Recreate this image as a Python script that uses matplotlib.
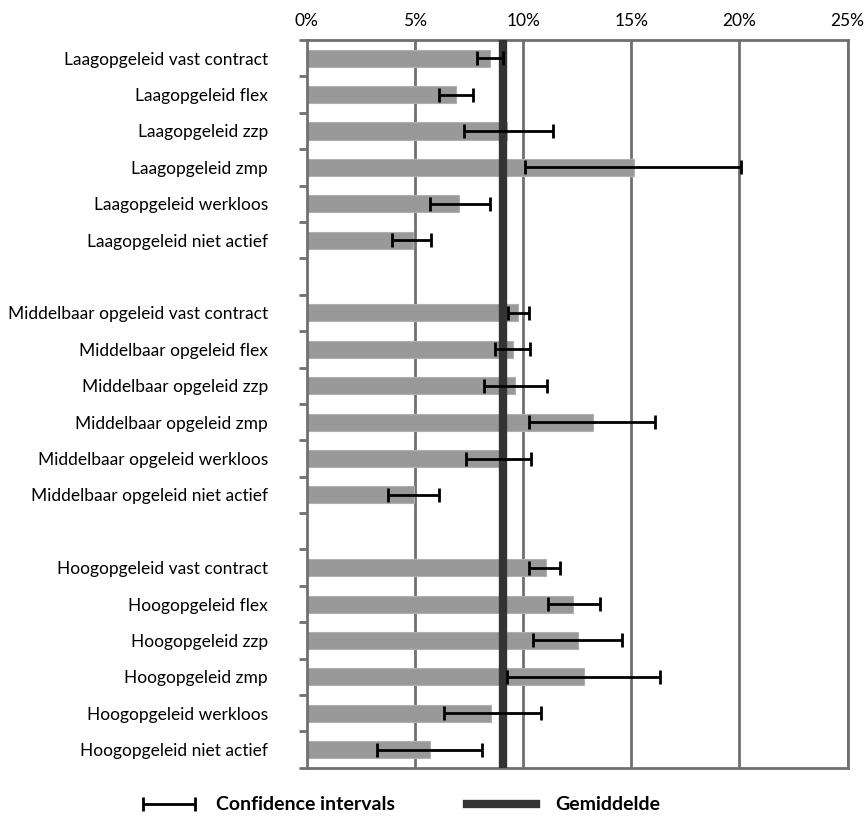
import numpy as np
import matplotlib
matplotlib.use("Agg")
import matplotlib.pyplot as plt
from matplotlib.ticker import FixedLocator, FuncFormatter
from matplotlib.container import ErrorbarContainer
from matplotlib.legend_handler import HandlerErrorbar

plt.rcParams['font.family'] = ['Lato', 'DejaVu Sans']

labels = [
    'Laagopgeleid vast contract', 'Laagopgeleid flex', 'Laagopgeleid zzp',
    'Laagopgeleid zmp', 'Laagopgeleid werkloos', 'Laagopgeleid niet actief',
    'Middelbaar opgeleid vast contract', 'Middelbaar opgeleid flex',
    'Middelbaar opgeleid zzp', 'Middelbaar opgeleid zmp',
    'Middelbaar opgeleid werkloos', 'Middelbaar opgeleid niet actief',
    'Hoogopgeleid vast contract', 'Hoogopgeleid flex', 'Hoogopgeleid zzp',
    'Hoogopgeleid zmp', 'Hoogopgeleid werkloos', 'Hoogopgeleid niet actief',
]
# percentages
values = [8.47, 6.88, 9.28, 15.15, 7.05, 4.89,
          9.78, 9.55, 9.62, 13.24, 8.89, 4.96,
          11.06, 12.32, 12.56, 12.83, 8.54, 5.69]
ci_low = [7.89, 6.11, 7.27, 10.10, 5.71, 3.93,
          9.30, 8.70, 8.20, 10.29, 7.36, 3.77,
          10.29, 11.13, 10.46, 9.28, 6.35, 3.26]
ci_high = [9.07, 7.70, 11.39, 20.09, 8.46, 5.73,
           10.29, 10.34, 11.10, 16.11, 10.38, 6.12,
           11.73, 13.57, 14.56, 16.31, 10.82, 8.11]
gemiddelde = 9.05
xticks = [0, 5, 10, 15, 20, 25]

group_size = 6
ypos = np.array([i + i // group_size for i in range(len(labels))])
vals = np.array(values)
xerr = np.array([vals - np.array(ci_low), np.array(ci_high) - vals])

fig = plt.figure(figsize=(8.64, 8.16), dpi=100)
ax = fig.add_axes([0.355, 0.059, 0.626, 0.892])

grid_col = '#707070'
for x in xticks[1:]:
    ax.axvline(x, color=grid_col, lw=2, zorder=1)

ax.barh(ypos, vals, height=0.47, color='#999999', edgecolor='#b0b0b0',
        linewidth=0.8, zorder=2)
err = ax.errorbar(vals, ypos, xerr=xerr, fmt='none', ecolor='black',
                  elinewidth=2, capsize=5, capthick=2, zorder=4,
                  label='Confidence intervals')
mean_line = ax.axvline(gemiddelde, color='#333333', lw=6, zorder=3,
                       label='Gemiddelde')

n_slots = ypos.max() + 1
ax.set_ylim(n_slots - 0.5, -0.5)
ax.set_xlim(0, 25)

ax.xaxis.tick_top()
ax.set_xticks(xticks)
ax.xaxis.set_major_formatter(FuncFormatter(lambda v, p: f'{v:.0f}%'))
ax.tick_params(axis='x', length=0, pad=8, labelsize=12.5)

ax.set_yticks(ypos)
ax.set_yticklabels(labels, fontsize=12.5)
ax.tick_params(axis='y', which='major', length=0, pad=28)
ax.yaxis.set_minor_locator(FixedLocator(np.arange(-0.5, n_slots, 1.0)))
ax.tick_params(axis='y', which='minor', length=6, width=2, color=grid_col,
               direction='out')

for side in ['top', 'left', 'bottom', 'right']:
    ax.spines[side].set_color(grid_col)
    ax.spines[side].set_linewidth(2)

# legend below the plot, two separate entries
leg_font = {'weight': 'bold', 'size': 14}
leg1 = fig.legend(handles=[err], loc='center left',
                  bbox_to_anchor=(0.1655, 0.0135), frameon=False,
                  borderpad=0, borderaxespad=0, handlelength=2.68,
                  handletextpad=1.1, prop=leg_font,
                  handler_map={ErrorbarContainer: HandlerErrorbar(xerr_size=1.34)})
leg2 = fig.legend(handles=[mean_line], loc='center left',
                  bbox_to_anchor=(0.540, 0.0135), frameon=False,
                  borderpad=0, borderaxespad=0, handlelength=3.55,
                  handletextpad=1.0, prop=leg_font)

fig.savefig('out.png', dpi=100)
